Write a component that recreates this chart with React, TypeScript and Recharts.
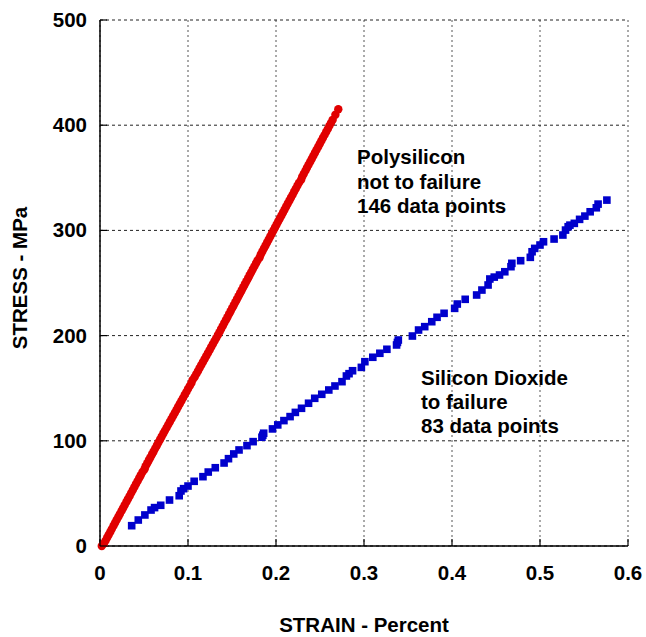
import { CartesianGrid, Scatter, ScatterChart, XAxis, YAxis } from 'recharts'

// Polysilicon, not to failure (146 points)
const polyStrain = [
  0.002, 0.0045, 0.0063, 0.0082, 0.0099, 0.0118, 0.0135, 0.0155, 0.0172, 0.019,
  0.0209, 0.0226, 0.0246, 0.0263, 0.0281, 0.0301, 0.0318, 0.0337, 0.0355, 0.0373,
  0.0391, 0.0409, 0.0428, 0.0446, 0.0463, 0.0483, 0.0506, 0.0518, 0.0537, 0.0555,
  0.0572, 0.0592, 0.0609, 0.0628, 0.0646, 0.0664, 0.0683, 0.0701, 0.072, 0.0738,
  0.0757, 0.0776, 0.0794, 0.0813, 0.0832, 0.0851, 0.087, 0.0888, 0.0907, 0.0926,
  0.0944, 0.0963, 0.0982, 0.1001, 0.102, 0.1039, 0.1052, 0.1076, 0.1095, 0.1114,
  0.1132, 0.1151, 0.117, 0.1189, 0.1208, 0.1227, 0.1246, 0.1264, 0.1283, 0.1302,
  0.1321, 0.134, 0.1358, 0.1376, 0.1394, 0.1412, 0.143, 0.1448, 0.1466, 0.1484,
  0.1502, 0.152, 0.1538, 0.1556, 0.1574, 0.1592, 0.161, 0.1628, 0.1646, 0.1664,
  0.1683, 0.17, 0.1718, 0.1736, 0.1754, 0.1773, 0.179, 0.1814, 0.1827, 0.1845,
  0.1863, 0.1881, 0.1899, 0.1917, 0.1935, 0.1953, 0.1971, 0.1989, 0.2007, 0.2025,
  0.2043, 0.2062, 0.208, 0.2098, 0.2116, 0.2134, 0.2153, 0.2171, 0.2189, 0.2207,
  0.2225, 0.2244, 0.2262, 0.2286, 0.2298, 0.2316, 0.2335, 0.2352, 0.237, 0.2389,
  0.2407, 0.2425, 0.2443, 0.2461, 0.248, 0.2498, 0.2516, 0.2534, 0.2552, 0.2571,
  0.2589, 0.2607, 0.2625, 0.2644, 0.2675, 0.2708,
]
const polyStress = [
  0, 2.4, 5.1, 8.0, 10.7, 13.6, 16.3, 19.4, 22.1, 24.9,
  27.8, 30.4, 33.5, 36.2, 39.0, 42.1, 44.7, 47.6, 50.5, 53.2,
  56.1, 58.9, 61.8, 64.6, 67.3, 70.3, 73.0, 75.8, 78.7, 81.5,
  84.2, 87.2, 89.9, 92.8, 95.6, 98.4, 101.3, 104.0, 106.9, 109.7,
  112.5, 115.4, 118.1, 121.0, 123.8, 126.7, 129.5, 132.3, 135.2, 138.0,
  140.8, 143.7, 146.5, 149.4, 152.2, 155.0, 157.9, 160.7, 163.6, 166.4,
  169.2, 172.1, 174.9, 177.8, 180.6, 183.4, 186.3, 189.1, 192.0, 194.8,
  197.6, 200.5, 203.3, 206.2, 209.0, 211.9, 214.7, 217.5, 220.4, 223.2,
  226.1, 228.9, 231.7, 234.6, 237.4, 240.3, 243.1, 245.9, 248.8, 251.6,
  254.5, 257.3, 260.1, 263.0, 265.8, 268.7, 271.5, 274.3, 277.2, 280.0,
  282.9, 285.7, 288.5, 291.4, 294.2, 297.1, 299.9, 302.8, 305.6, 308.5,
  311.3, 314.2, 317.0, 319.8, 322.7, 325.5, 328.4, 331.2, 334.0, 336.9,
  339.7, 342.6, 345.4, 348.2, 351.1, 353.9, 356.8, 359.6, 362.4, 365.3,
  368.1, 371.0, 373.8, 376.6, 379.5, 382.3, 385.2, 388.0, 390.8, 393.7,
  396.5, 399.4, 402.2, 405.1, 410.0, 415.2,
]

// Silicon dioxide, to failure (83 points)
const oxideStrain = [
  0.036, 0.0435, 0.051, 0.058, 0.062, 0.069, 0.079, 0.09, 0.092, 0.095,
  0.1, 0.107, 0.117, 0.123, 0.131, 0.141, 0.146, 0.152, 0.158, 0.167,
  0.174, 0.184, 0.185, 0.186, 0.196, 0.202, 0.209, 0.216, 0.222, 0.229,
  0.237, 0.244, 0.252, 0.26, 0.267, 0.275, 0.28, 0.283, 0.287, 0.297,
  0.301, 0.31, 0.318, 0.326, 0.337, 0.338, 0.339, 0.355, 0.362, 0.369,
  0.377, 0.383, 0.391, 0.403, 0.406, 0.415, 0.428, 0.434, 0.441, 0.443,
  0.448, 0.454, 0.46, 0.467, 0.468, 0.478, 0.489, 0.491, 0.494, 0.5,
  0.504, 0.516, 0.526, 0.529, 0.532, 0.534, 0.539, 0.545, 0.551, 0.557,
  0.564, 0.566, 0.576,
]
const oxideStress = [
  19.3, 24.7, 29.5, 34.2, 36.5, 38.7, 43.7, 47.8, 52.3, 54.5,
  57.0, 61.5, 65.9, 70.3, 74.4, 78.9, 83.0, 87.5, 91.3, 95.4,
  99.2, 103.4, 105.3, 107.2, 111.3, 115.1, 119.2, 123.0, 127.0, 130.9,
  135.7, 140.4, 144.2, 148.3, 152.1, 156.2, 161.6, 163.8, 166.6, 169.8,
  175.2, 179.4, 183.2, 187.0, 191.1, 193.5, 195.8, 199.6, 205.3, 208.5,
  213.2, 217.4, 221.2, 225.9, 230.0, 234.5, 238.6, 243.3, 248.1, 253.8,
  255.6, 257.6, 260.7, 265.5, 268.7, 271.2, 274.4, 279.7, 282.9, 286.1,
  289.2, 291.8, 295.6, 300.3, 303.5, 305.0, 306.7, 310.5, 313.6, 317.7,
  321.5, 325.0, 328.8,
]

const strainTicks = [0, 0.1, 0.2, 0.3, 0.4, 0.5, 0.6]
const stressTicks = [0, 100, 200, 300, 400, 500]

const polyData = polyStrain.map((strain, i) => ({ strain, stress: polyStress[i] }))
const oxideData = oxideStrain.map((strain, i) => ({ strain, stress: oxideStress[i] }))

const W = 646
const H = 637
const LEFT = 100
const RIGHT = 628
const TOP = 20
const BOTTOM = 546
const TICK = 7
const FONT = '"Liberation Sans", Arial, Helvetica, sans-serif'

const textStyle = { fontFamily: FONT, fontWeight: 700, fontSize: 20.5, fill: '#000' }

const BottomTick = ({ x, payload }: any) => (
  <g>
    <line x1={x} x2={x} y1={BOTTOM} y2={BOTTOM - TICK} stroke="#000" strokeWidth={1.2} />
    <text x={x} y={BOTTOM + 34} textAnchor="middle" style={textStyle}>
      {String(payload.value)}
    </text>
  </g>
)

const LeftTick = ({ y, payload }: any) => (
  <g>
    <line x1={LEFT} x2={LEFT + TICK} y1={y} y2={y} stroke="#000" strokeWidth={1.2} />
    <text x={LEFT - 13} y={y + 7} textAnchor="end" style={textStyle}>
      {String(payload.value)}
    </text>
  </g>
)

const TopTick = ({ x }: any) => (
  <line x1={x} x2={x} y1={TOP} y2={TOP + TICK} stroke="#000" strokeWidth={1.2} />
)

const RightTick = ({ y }: any) => (
  <line x1={RIGHT} x2={RIGHT - TICK} y1={y} y2={y} stroke="#000" strokeWidth={1.2} />
)

const Dot = ({ cx, cy }: any) => <circle cx={cx} cy={cy} r={4.2} fill="#e10000" />
const Square = ({ cx, cy }: any) => (
  <rect x={cx - 3.8} y={cy - 3.8} width={7.6} height={7.6} fill="#0000cc" />
)

export default function App() {
  return (
    <div style={{ position: 'relative', width: W, height: H }}>
      <style>{'body { margin: 0; }'}</style>
      <ScatterChart
        width={W}
        height={H}
        margin={{ top: TOP, right: W - RIGHT, left: 0, bottom: 0 }}
      >
        <CartesianGrid
          horizontal={false}
          stroke="#555"
          strokeDasharray="2 3"
          verticalValues={strainTicks}
        />
        <CartesianGrid
          vertical={false}
          stroke="#222"
          strokeDasharray="3 3"
          horizontalValues={stressTicks}
        />
        <XAxis
          type="number"
          dataKey="strain"
          domain={[0, 0.6]}
          ticks={strainTicks}
          height={H - BOTTOM}
          tickSize={0}
          tickLine={false}
          axisLine={{ stroke: '#000', strokeWidth: 1.5 }}
          tick={BottomTick}
          interval={0}
        />
        <XAxis
          xAxisId="top"
          orientation="top"
          type="number"
          dataKey="strain"
          domain={[0, 0.6]}
          ticks={strainTicks}
          height={0}
          tickSize={0}
          tickLine={false}
          axisLine={{ stroke: '#000', strokeWidth: 1.5 }}
          tick={TopTick}
          interval={0}
        />
        <YAxis
          type="number"
          dataKey="stress"
          domain={[0, 500]}
          ticks={stressTicks}
          width={LEFT}
          tickSize={0}
          tickLine={false}
          axisLine={{ stroke: '#000', strokeWidth: 1.5 }}
          tick={LeftTick}
          interval={0}
        />
        <YAxis
          yAxisId="right"
          orientation="right"
          type="number"
          dataKey="stress"
          domain={[0, 500]}
          ticks={stressTicks}
          width={0}
          tickSize={0}
          tickLine={false}
          axisLine={{ stroke: '#000', strokeWidth: 1.5 }}
          tick={RightTick}
          interval={0}
        />
        <Scatter data={polyData} shape={Dot} isAnimationActive={false} />
        <Scatter data={oxideData} shape={Square} isAnimationActive={false} />
      </ScatterChart>
      <svg
        width={W}
        height={H}
        style={{ position: 'absolute', left: 0, top: 0, pointerEvents: 'none' }}
      >
        <text x={357} y={164} style={textStyle}>Polysilicon</text>
        <text x={357} y={189} style={textStyle}>not to failure</text>
        <text x={357} y={213} style={textStyle}>146 data points</text>
        <text x={421} y={385} style={textStyle}>Silicon Dioxide</text>
        <text x={421} y={409} style={textStyle}>to failure</text>
        <text x={421} y={433} style={textStyle}>83 data points</text>
        <text x={364} y={632} textAnchor="middle" style={textStyle}>
          STRAIN - Percent
        </text>
        <text
          x={27}
          y={278}
          textAnchor="middle"
          transform="rotate(-90 27 278)"
          style={textStyle}
        >
          STRESS - MPa
        </text>
      </svg>
    </div>
  )
}
